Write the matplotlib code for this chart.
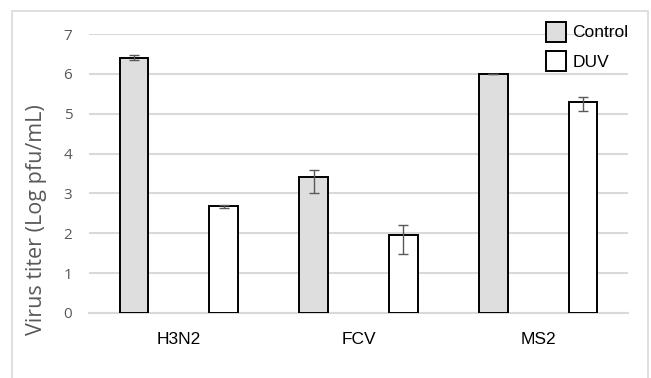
import numpy as np
import matplotlib.pyplot as plt
from matplotlib.patches import Patch, Rectangle

# данные с графика
viruses = ['H3N2', 'FCV', 'MS2']
control = [6.40, 3.40, 6.00]
control_err_lo = [0.05, 0.40, 0.00]
control_err_hi = [0.07, 0.19, 0.00]
duv = [2.68, 1.96, 5.30]
duv_err_lo = [0.05, 0.49, 0.23]
duv_err_hi = [0.04, 0.24, 0.13]

fig = plt.figure(figsize=(6.51, 3.78), dpi=100)
# серая рамка вокруг всей диаграммы
fig.patches.append(Rectangle((12 / 651, -0.1), 636 / 651, 1 - 11 / 378 + 0.1,
                             transform=fig.transFigure, fill=False,
                             edgecolor='#d9d9d9', lw=1.2))

ax = fig.add_axes([89 / 651, 1 - 313 / 378, 539 / 651, 279 / 378])
x = np.arange(len(viruses))
w = 0.16
off = 0.25

ax.bar(x - off, control, w, color='#dedede', edgecolor='black', lw=1.4,
       yerr=[control_err_lo, control_err_hi], ecolor='#595959',
       error_kw=dict(capsize=3.5, elinewidth=1, capthick=1), zorder=3)
ax.bar(x + off, duv, w, color='white', edgecolor='black', lw=1.4,
       yerr=[duv_err_lo, duv_err_hi], ecolor='#595959',
       error_kw=dict(capsize=3.5, elinewidth=1, capthick=1), zorder=3)

ax.set_xlim(-0.5, 2.5)
ax.set_ylim(0, 7)
ax.set_yticks(range(0, 8))
ax.grid(axis='y', color='#d9d9d9', lw=1.5, zorder=0)
for s in ['top', 'right', 'left']:
    ax.spines[s].set_visible(False)
ax.spines['bottom'].set_color('#d9d9d9')
ax.spines['bottom'].set_linewidth(1.5)
ax.tick_params(length=0)
ax.tick_params(axis='y', colors='#595959', labelsize=11, pad=12)
ax.set_xticks(x)
ax.set_xticklabels(viruses, fontsize=12.5, family='Liberation Sans')
ax.tick_params(axis='x', pad=14)
for t in ax.get_yticklabels():
    t.set_family('Open Sans')
ax.set_ylabel('Virus titer (Log pfu/mL)', fontsize=15.5, color='#595959',
              family='Open Sans')
# подпись оси сдвинута вниз, как в оригинале
ax.yaxis.set_label_coords(-0.078, 0.333)

handles = [Patch(facecolor='#dedede', edgecolor='black', lw=1.4, label='Control'),
           Patch(facecolor='white', edgecolor='black', lw=1.4, label='DUV')]
fig.legend(handles=handles, loc='upper left', bbox_to_anchor=(530 / 651, 1 - 6 / 378),
           frameon=False, prop={'family': 'Liberation Sans', 'size': 12.5},
           handlelength=1.15, handleheight=1.4, handletextpad=0.4, labelspacing=0.55)

plt.savefig('out.png', dpi=100)
